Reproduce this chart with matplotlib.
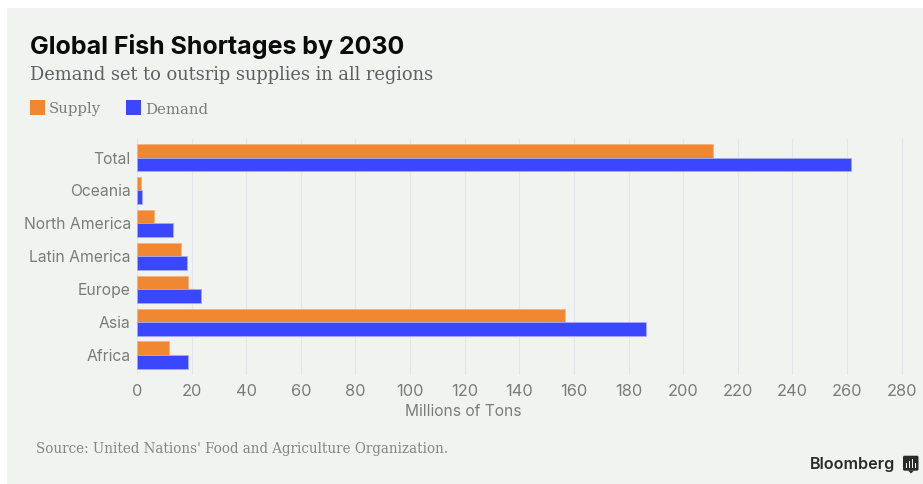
import numpy as np
import matplotlib
matplotlib.use('Agg')
import matplotlib.pyplot as plt
from matplotlib.patches import Rectangle, FancyBboxPatch, Polygon

W, H = 923, 484

regions = ['Africa', 'Asia', 'Europe', 'Latin America', 'North America', 'Oceania', 'Total']
supply = [11.7, 156.7, 18.6, 16.2, 6.2, 1.5, 210.8]
demand = [18.7, 186.5, 23.5, 18.4, 13.0, 1.9, 261.4]
xticks = list(range(0, 281, 20))

ORANGE = '#f08833'
BLUE = '#3a47fc'
PANEL = '#f1f3f1'
GREY = '#7b7b7b'
GRID = '#e3e5e9'

SANS = 'Inter'
SERIF = 'DejaVu Serif'

fig = plt.figure(figsize=(W / 100, H / 100), dpi=100, facecolor='white')

# overlay in pixel coordinates for the panel, headings and footer
bg = fig.add_axes([0, 0, 1, 1], zorder=0)
bg.set_xlim(0, W)
bg.set_ylim(H, 0)
bg.axis('off')
bg.add_patch(Rectangle((7, 8), W - 7, H - 8, fc=PANEL, ec='none'))

bg.text(29.5, 46.5, 'Global Fish Shortages by 2030', family='Inter', weight='bold',
        fontsize=18, color='#0a0a0a', va='center', ha='left')
bg.text(29.5, 75.5, 'Demand set to outsrip supplies in all regions', family=SERIF,
        fontsize=12.85, color='#5f6062', va='center', ha='left')

# legend
bg.add_patch(Rectangle((30, 100), 15, 14.5, fc=ORANGE, ec='none'))
bg.text(49, 109.5, 'Supply', family=SERIF, fontsize=10.7, color=GREY, va='center', ha='left')
bg.add_patch(Rectangle((125.5, 100), 15, 14.5, fc=BLUE, ec='none'))
bg.text(145, 109.5, 'Demand', family=SERIF, fontsize=10.7, color=GREY, va='center', ha='left')

bg.text(35.5, 449.5, "Source: United Nations' Food and Agriculture Organization.", family=SERIF,
        fontsize=9.75, color='#858585', va='center', ha='left')

# Bloomberg mark
bg.text(895.5, 464.5, 'Bloomberg', family='Inter', weight='semibold', fontsize=11.6,
        color='#2a2a2a', va='center', ha='right')
bg.add_patch(FancyBboxPatch((903, 455.7), 15.5, 15, boxstyle='round,pad=0,rounding_size=1.5',
                            fc='#2a2a2a', ec='none'))
bg.add_patch(Polygon([[908, 470.5], [914, 470.5], [911, 473.5]], fc='#2a2a2a', ec='none'))
for bx, top in zip([906, 909, 912, 915], [463, 460.5, 458.5, 462.5]):
    bg.add_patch(Rectangle((bx, top), 1.3, 468 - top, fc=PANEL, ec='none'))

# chart area, 0 at x=137 and 2.731 px per million tons
left, right, top, bottom = 137, 915.3, 138.5, 374.5
ax = fig.add_axes([left / W, 1 - bottom / H, (right - left) / W, (bottom - top) / H], zorder=1)
ax.patch.set_visible(False)

y = np.arange(len(regions))
h = 0.415
ax.barh(y + h / 2, supply, height=h, color=ORANGE, edgecolor='#f5b27e', linewidth=0.6, zorder=3)
ax.barh(y - h / 2, demand, height=h, color=BLUE, edgecolor='#a9aaf5', linewidth=0.6, zorder=3)

ax.set_xlim(0, (right - left) / 2.731)
ax.set_ylim(-0.587, 6.577)
ax.set_yticks(y)
ax.set_yticklabels(regions, family=SANS, fontsize=11.3, color=GREY)
ax.set_xticks(xticks)
ax.set_xticklabels([str(t) for t in xticks], family=SANS, fontsize=11.8, color=GREY)
ax.tick_params(axis='y', length=0, pad=4.5)
ax.tick_params(axis='x', length=0, pad=7)
ax.grid(axis='x', color=GRID, linewidth=0.8, zorder=0)
ax.set_axisbelow(True)
for s in ax.spines.values():
    s.set_visible(False)

bg.text(463.5, 412, 'Millions of Tons', family=SANS, fontsize=11.2, color=GREY, va='center', ha='center')

fig.savefig('out.png', dpi=100, facecolor=fig.get_facecolor())
